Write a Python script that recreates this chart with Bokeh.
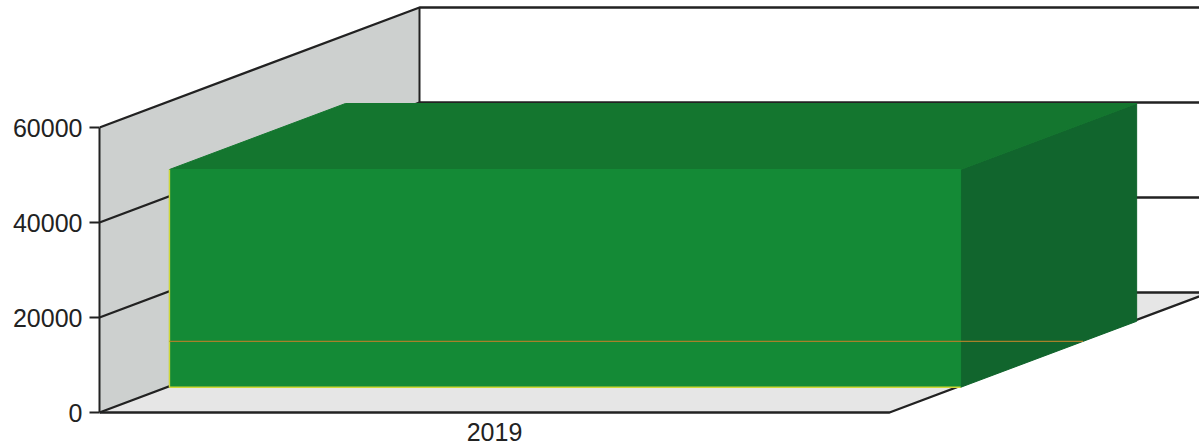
from bokeh.plotting import figure
from bokeh.models import Range1d, FixedTicker
from bokeh.embed import file_html
from bokeh.resources import INLINE

categories = ["2019"]
tick_values = [0, 20000, 40000, 60000]
bar_value = 45850
inner_value = 9660

# pseudo-3D projection: category units along x, value units along y, depth 0..1
PX_X = 790.0
PX_V = 0.00475
DEPTH_X = 320 / PX_X
DEPTH_V = 120 / PX_V
X_MAX = 1100 / PX_X
Y_MAX = 412 / PX_V
Y_MIN = -2 / PX_V
AXIS_TOP = tick_values[-1]


def proj(x, v, d):
    return x + d * DEPTH_X, v + d * DEPTH_V


def poly(points):
    pts = [proj(*q) for q in points]
    return [a for a, _ in pts], [b for _, b in pts]


p = figure(width=1199, height=447, output_backend="svg", toolbar_location=None,
           x_range=Range1d(0, X_MAX), y_range=Range1d(Y_MIN, Y_MAX),
           min_border_left=99, min_border_right=0, min_border_top=0, min_border_bottom=33,
           outline_line_color=None, background_fill_color="white")
p.margin = (0, 0, 0, 0)
p.grid.visible = False

wx, wy = poly([(0, 0, 0), (0, AXIS_TOP, 0), (0, AXIS_TOP, 1), (0, 0, 1)])
p.patch(wx, wy, fill_color="#cdd0cf", line_color=None)
fx, fy = poly([(0, 0, 0), (1, 0, 0), (1, 0, 1), (0, 0, 1)])
p.patch(fx, fy, fill_color="#e6e6e6", line_color=None)

LINE = "#222222"
for v in tick_values:
    gx, gy = poly([(0, v, 0), (0, v, 1), (1, v, 1)])
    p.line(gx, gy, line_color=LINE, line_width=2.4)
bx, by = poly([(0, 0, 1), (0, AXIS_TOP, 1)])
p.line(bx, by, line_color=LINE, line_width=2)
ex, ey = poly([(0, 0, 0), (1, 0, 0), (1, 0, 1)])
p.line(ex, ey, line_color=LINE, line_width=2.4)

X0, X1, D0, D1 = 0.0035, 1.005, 0.21, 0.76
TOP_C, SIDE_C, FRONT_C = "#14762f", "#11652d", "#148a36"
sx, sy = poly([(X1, 0, D0), (X1, bar_value, D0), (X1, bar_value, D1), (X1, 0, D1)])
p.patch(sx, sy, fill_color=SIDE_C, line_color=SIDE_C, line_width=1)
tx, ty = poly([(X0, bar_value, D0), (X1, bar_value, D0), (X1, bar_value, D1), (X0, bar_value, D1)])
p.patch(tx, ty, fill_color=TOP_C, line_color=TOP_C, line_width=1)
cx, cy = poly([(X0, 0, D0), (X1, 0, D0), (X1, bar_value, D0), (X0, bar_value, D0)])
p.patch(cx, cy, fill_color=FRONT_C, line_color=FRONT_C, line_width=1)

ylx, yly = poly([(X0, bar_value, D0), (X0, 0, D0), (X1, 0, D0)])
p.line(ylx, yly, line_color="#d0d838", line_width=1.4)

t = inner_value / DEPTH_V
ix, iy = poly([(X0, inner_value, D0), (X1 + t * DEPTH_X, inner_value, D0)])
p.line(ix, iy, line_color="#a8802a", line_width=1.4)

y = p.yaxis[0]
y.ticker = FixedTicker(ticks=tick_values)
y.bounds = (0, AXIS_TOP)
y.axis_line_color = LINE
y.axis_line_width = 2
y.major_tick_line_color = LINE
y.major_tick_line_width = 2
y.major_tick_out = 10
y.major_tick_in = 0
y.minor_tick_line_color = None
y.major_label_text_font = "Liberation Sans"
y.major_label_text_font_size = "25px"
y.major_label_text_color = "#222222"
y.major_label_standoff = 7
y.formatter.use_scientific = False

x = p.xaxis[0]
x.ticker = FixedTicker(ticks=[0.5])
x.major_label_overrides = {0.5: categories[0]}
x.axis_line_color = None
x.major_tick_line_color = None
x.minor_tick_line_color = None
x.major_label_text_font = "Liberation Sans"
x.major_label_text_font_size = "25px"
x.major_label_text_color = "#222222"
x.major_label_standoff = 2

open("out.html", "w").write(file_html(p, INLINE))
